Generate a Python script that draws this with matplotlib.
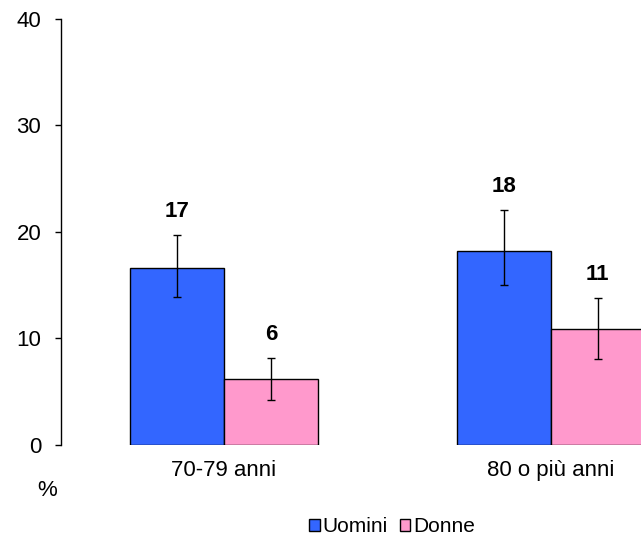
import matplotlib
matplotlib.use("Agg")
import matplotlib.pyplot as plt
import numpy as np

# data
categories = ["70-79 anni", "80 o più anni"]
series = ["Uomini", "Donne"]
uomini = [16.6, 18.2]
donne = [6.2, 10.9]
uomini_low = [13.9, 15.0]
uomini_high = [19.7, 22.1]
donne_low = [4.2, 8.1]
donne_high = [8.2, 13.8]
labels_uomini = ["17", "18"]
labels_donne = ["6", "11"]
yticks = [0, 10, 20, 30, 40]

plt.rcParams['font.family'] = ['Liberation Sans', 'DejaVu Sans']

fig = plt.figure(figsize=(6.41, 5.36), dpi=100)
# the plot area runs past the right edge, as in the original
ax = fig.add_axes([0.0947, 0.1698, 1.019, 0.7948])

x = np.arange(len(categories))
w = 0.288
colors = ["#3366FF", "#FF99CC"]

vals = [uomini, donne]
lows = [uomini_low, donne_low]
highs = [uomini_high, donne_high]
texts = [labels_uomini, labels_donne]
offsets = [-w / 2, w / 2]

for i in range(2):
    v = np.array(vals[i])
    err = [v - np.array(lows[i]), np.array(highs[i]) - v]
    ax.bar(x + offsets[i], v, width=w, color=colors[i], edgecolor="black",
           linewidth=1.0, label=series[i], zorder=2)
    ax.errorbar(x + offsets[i], v, yerr=err, fmt="none", ecolor="black",
                elinewidth=1.0, capsize=3.2, capthick=1.0, zorder=3)
    for xi, hi, t in zip(x + offsets[i], highs[i], texts[i]):
        ax.annotate(t, (xi, hi), xytext=(0, 17), textcoords="offset points",
                    ha="center", va="center", fontsize=16, fontweight="bold")

ax.set_xlim(-0.5, 1.5)
ax.set_ylim(0, 40)
ax.set_yticks(yticks)
ax.set_xticks(x)
ax.set_xticklabels(categories)

for s in ["top", "right", "bottom"]:
    ax.spines[s].set_visible(False)
ax.spines["left"].set_linewidth(1.0)
ax.tick_params(axis="y", direction="out", length=4.5, width=1.0, pad=9.5, labelsize=16)
ax.tick_params(axis="x", length=0, pad=11, labelsize=16)

fig.text(46.7 / 641, 1 - 490 / 536, "%", ha="center", va="center", fontsize=16)

fig.legend(loc="center", bbox_to_anchor=(392 / 641, 1 - 527 / 536), ncol=2,
           frameon=False, fontsize=15, handlelength=0.5, handleheight=0.5,
           handletextpad=0.12, columnspacing=0.6, borderaxespad=0)

fig.savefig("out.png", dpi=100)
